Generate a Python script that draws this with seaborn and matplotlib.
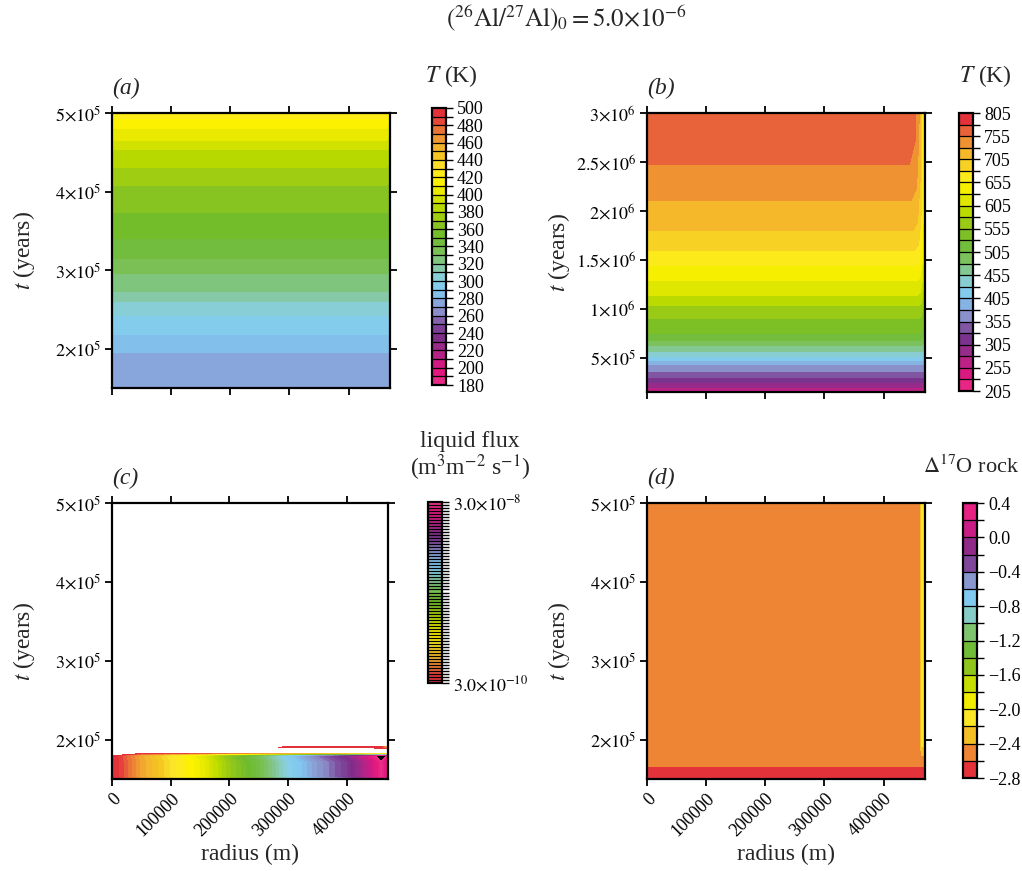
import numpy as np
import matplotlib
matplotlib.use("Agg")
import matplotlib.pyplot as plt
from matplotlib.ticker import FixedLocator
from matplotlib.colors import LinearSegmentedColormap, BoundaryNorm
from matplotlib.cm import ScalarMappable
import seaborn as sns

# ---------------- data ----------------
radius_max = 470000.0

# interior temperature history (panels a, b)
t_nodes = [1.5e5, 1.95e5, 2.18e5, 2.42e5, 2.6e5, 2.73e5, 2.96e5, 3.15e5, 3.4e5,
           3.73e5, 4.08e5, 4.3e5, 4.53e5, 4.65e5, 4.8e5, 4.93e5, 5.0e5, 5.6e5,
           6.2e5, 6.8e5, 7.5e5, 9.0e5, 1.03e6, 1.14e6, 1.29e6, 1.44e6, 1.6e6,
           1.8e6, 2.11e6, 2.47e6, 3.0e6]
T_center = [272, 280, 290, 300, 310, 320, 330, 340, 350, 360, 370, 380, 390, 400,
            410, 420, 424, 455, 480, 505, 530, 555, 580, 605, 630, 655, 680, 705,
            730, 755, 775]
T_surface = [266, 272, 280, 288, 296, 304, 312, 320, 328, 336, 344, 352, 360, 368,
             375, 382, 385, 400, 415, 430, 445, 465, 480, 490, 500, 508, 515, 520,
             527, 533, 538]
layer_width = [3000, 3500, 3800, 4000, 4200, 4400, 4600, 4800, 5000, 5300, 5600,
               5800, 6000, 6200, 6400, 6500, 6600, 7200, 7800, 8400, 9000, 10500,
               11500, 12500, 14000, 15500, 17500, 20000, 23000, 26500, 30000]
layer_depth = [1.0, 0.6, 0.3, 0.12, 0.0]
layer_value = [1.0, 0.96, 0.8, 0.5, 0.0]

# liquid flux (panel c)
flux_radii = [0, 50000, 100000, 150000, 200000, 250000, 300000, 350000, 400000,
              440000, 458000, 470000]
flux_strip = [0.035e-8, 0.40e-8, 0.65e-8, 0.90e-8, 1.25e-8, 1.55e-8, 1.95e-8,
              2.25e-8, 2.5e-8, 2.85e-8, 3.08e-8, 2.9e-8]
flux_late = [0, 0, 0, 0, 0, 0.02e-8, 0.035e-8, 0.04e-8, 0.045e-8, 0.05e-8,
             0.08e-8, 0.4e-8]
flux_times = [1.49e5, 1.5e5, 1.53e5, 1.72e5, 1.79e5, 1.825e5, 1.88e5, 1.905e5,
              1.92e5, 5.0e5]
strip_weight = [0.8, 0.8, 0.96, 0.96, 1.0, 0.0, 0.0, 0.0, 0.0, 0.0]
late_weight = [0.0, 0.0, 0.0, 0.0, 0.0, 0.0, 0.0, 1.0, 0.0, 0.0]

# Delta17O rock (panel d)
d17_times = [1.5e5, 1.64e5, 1.68e5, 1.85e5, 1.95e5, 5.0e5]
d17_interior = [-2.7, -2.7, -2.5, -2.5, -2.5, -2.5]
d17_surface = [-2.7, -2.7, -2.5, -2.35, -2.1, -2.1]
d17_radii = [0, 461000, 464500, 470000]
d17_surface_weight = [0.0, 0.0, 1.0, 1.0]

# colour scales / ticks
T_levels_a = list(range(180, 501, 10))
T_ticks_a = list(range(180, 501, 20))
T_levels_b = list(range(205, 806, 25))
T_ticks_b = list(range(205, 806, 50))
flux_min, flux_max, flux_nbands = 3.0e-10, 3.0e-8, 60
d17_levels = [-2.8, -2.6, -2.4, -2.2, -2.0, -1.8, -1.6, -1.4, -1.2, -1.0, -0.8,
              -0.6, -0.4, -0.2, 0.0, 0.2, 0.4]
d17_ticks = [-2.8, -2.4, -2.0, -1.6, -1.2, -0.8, -0.4, 0.0, 0.4]
x_ticks = [0, 100000, 200000, 300000, 400000]
y_ticks_short = [2e5, 3e5, 4e5, 5e5]
y_labels_short = [r"$2{\times}10^{5}$", r"$3{\times}10^{5}$", r"$4{\times}10^{5}$",
                  r"$5{\times}10^{5}$"]
y_ticks_long = [5e5, 1e6, 1.5e6, 2e6, 2.5e6, 3e6]
y_labels_long = [r"$5{\times}10^{5}$", r"$1{\times}10^{6}$", r"$1.5{\times}10^{6}$",
                 r"$2{\times}10^{6}$", r"$2.5{\times}10^{6}$", r"$3{\times}10^{6}$"]

rainbow_colors = ["#e3323a", "#e3323a", "#e8643a", "#ee8a33", "#f3b030", "#f5c620",
                  "#fbe62a", "#fef200", "#dfe600", "#b5d800", "#8dc51e", "#6dbb2e",
                  "#7cc15a", "#84c8a0", "#88d0e8", "#80c8f0", "#88a8dc", "#8a88c4",
                  "#7e4a9c", "#7a2e8a", "#a3298a", "#d01a82", "#e6187f", "#e8348a"]
rainbow_stops = [0.0, 0.03, 0.06, 0.095, 0.13, 0.17, 0.21, 0.26, 0.31, 0.36, 0.41,
                 0.46, 0.52, 0.57, 0.62, 0.66, 0.70, 0.74, 0.78, 0.82, 0.87, 0.92,
                 0.96, 1.0]

# ---------------- style ----------------
sns.set_style("ticks")
plt.rcParams["font.family"] = ["Liberation Serif", "DejaVu Serif"]
plt.rcParams["mathtext.fontset"] = "stix"
plt.rcParams["axes.linewidth"] = 1.6
plt.rcParams["axes.edgecolor"] = "black"

cmap = LinearSegmentedColormap.from_list(
    "rainbow_ref", list(zip(rainbow_stops, sns.color_palette(rainbow_colors))), N=256)
cmap_r = cmap.reversed()
cmap_c = cmap.with_extremes(over="black")

W, H = 1022, 871
fig = plt.figure(figsize=(W / 100, H / 100), dpi=100)
fig.patch.set_facecolor("white")


def px_axes(x0, y0, x1, y1):
    return fig.add_axes([x0 / W, 1 - y1 / H, (x1 - x0) / W, (y1 - y0) / H])


def ftext(x, y, s, **kw):
    fig.text(x / W, 1 - y / H, s, **kw)


ax_a = px_axes(112, 113, 390, 388)
ax_b = px_axes(647, 113, 925, 392)
ax_c = px_axes(112, 503, 388, 779)
ax_d = px_axes(647, 503, 925, 779)
cax_a = px_axes(432, 108, 446, 385)
cax_b = px_axes(959, 113, 973, 391)
cax_c = px_axes(428, 502, 442, 683)
cax_d = px_axes(963, 503, 977, 778)

# ---------------- temperature field (a, b) ----------------
tn = np.array(t_nodes)
Tc = np.array(T_center, dtype=float)
Ts = np.array(T_surface, dtype=float)
wl = np.array(layer_width, dtype=float)
Xr = np.column_stack([np.zeros_like(wl)] + [radius_max - wl * d for d in layer_depth])
prof = np.array([1.0] + layer_value)
Zt = Ts[:, None] + (Tc - Ts)[:, None] * prof[None, :]
Yt = np.repeat(tn[:, None], Xr.shape[1], axis=1)

cs_a = ax_a.contourf(Xr, Yt, Zt, levels=T_levels_a, cmap=cmap_r)
cs_b = ax_b.contourf(Xr, Yt, Zt, levels=T_levels_b, cmap=cmap_r)

# ---------------- liquid flux (c) ----------------
fr = np.array(flux_radii, dtype=float)
Zc = np.outer(strip_weight, flux_strip) + np.outer(late_weight, flux_late)
flux_levels = np.linspace(flux_min, flux_max, flux_nbands + 1)
cs_c = ax_c.contourf(fr, np.array(flux_times), Zc, levels=flux_levels,
                     cmap=cmap_c, extend="max")

# ---------------- Delta17O (d) ----------------
dw = np.array(d17_surface_weight)
Zd = (np.array(d17_interior)[:, None]
      + (np.array(d17_surface) - np.array(d17_interior))[:, None] * dw[None, :])
cs_d = ax_d.contourf(np.array(d17_radii, dtype=float), np.array(d17_times), Zd,
                     levels=d17_levels, cmap=cmap)

# ---------------- axes cosmetics ----------------
for ax in (ax_a, ax_b, ax_c, ax_d):
    ax.set_xlim(0, radius_max)
    ax.set_xticks(x_ticks)
    ax.tick_params(direction="out", length=5, width=1.3, top=True, right=True,
                   labelsize=13, colors="black", pad=3)
    for sp in ax.spines.values():
        sp.set_visible(True)
        sp.set_linewidth(1.6)
    ax.set_ylabel(r"$t$ (years)", fontsize=17)
    ax.yaxis.set_label_coords(-0.27, 0.5)

for ax in (ax_a, ax_c, ax_d):
    ax.set_ylim(1.5e5, 5e5)
    ax.set_yticks(y_ticks_short)
    ax.set_yticklabels(y_labels_short)
ax_b.set_ylim(1.5e5, 3e6)
ax_b.set_yticks(y_ticks_long)
ax_b.set_yticklabels(y_labels_long)

for ax in (ax_a, ax_b):
    ax.tick_params(labelbottom=False)
for ax in (ax_c, ax_d):
    ax.set_xticklabels([str(v) for v in x_ticks])
    for lab in ax.get_xticklabels():
        lab.set_rotation(45)
        lab.set_ha("right")
        lab.set_va("top")
        lab.set_rotation_mode("anchor")
    ax.set_xlabel("radius (m)", fontsize=17)
    ax.xaxis.set_label_coords(0.5, -0.235)

# ---------------- colorbars ----------------
def style_cbar(cb, ticks, labels, minor):
    cb.set_ticks(ticks)
    cb.set_ticklabels(labels)
    cb.minorlocator = FixedLocator(minor)
    cb.ax.tick_params(which="both", direction="out", length=5, width=1.0,
                      labelsize=13, colors="black", pad=3)
    cb.outline.set_linewidth(1.6)
    if cb.dividers is not None:
        cb.dividers.set_linewidth(0.9)
        cb.dividers.set_color("black")


cb_a = fig.colorbar(cs_a, cax=cax_a, drawedges=True)
style_cbar(cb_a, T_ticks_a, [str(v) for v in T_ticks_a], T_levels_a)
cb_b = fig.colorbar(cs_b, cax=cax_b, drawedges=True)
style_cbar(cb_b, T_ticks_b, [str(v) for v in T_ticks_b], T_levels_b)
sm_c = ScalarMappable(norm=BoundaryNorm(flux_levels, ncolors=cmap.N), cmap=cmap)
cb_c = fig.colorbar(sm_c, cax=cax_c, drawedges=True)
style_cbar(cb_c, [flux_min, flux_max],
           [r"$3.0{\times}10^{-10}$", r"$3.0{\times}10^{-8}$"], flux_levels)
cb_d = fig.colorbar(cs_d, cax=cax_d, drawedges=True)
style_cbar(cb_d, d17_ticks,
           [("%.1f" % v).replace("-", "\u2212") for v in d17_ticks], d17_levels)

# ---------------- texts ----------------
ftext(566, 18, r"$(^{26}\mathrm{Al}/^{27}\mathrm{Al})_0 = 5.0{\times}10^{-6}$",
      ha="center", va="center", fontsize=18)
ftext(451, 76, r"$T$ (K)", ha="center", va="center", fontsize=17)
ftext(985, 76, r"$T$ (K)", ha="center", va="center", fontsize=17)
ftext(470, 441, "liquid flux", ha="center", va="center", fontsize=17)
ftext(470, 468, r"(m$^{3}$m$^{-2}$ s$^{-1}$)", ha="center", va="center", fontsize=17)
ftext(1019, 467, r"$\Delta^{17}$O rock", ha="right", va="center", fontsize=16)
for lab, (x, y) in zip(["(a)", "(b)", "(c)", "(d)"],
                       [(112, 88), (647, 88), (112, 478), (647, 478)]):
    ftext(x, y, lab, ha="left", va="center", fontsize=17, style="italic")

fig.savefig("out.png", dpi=100, facecolor="white")
